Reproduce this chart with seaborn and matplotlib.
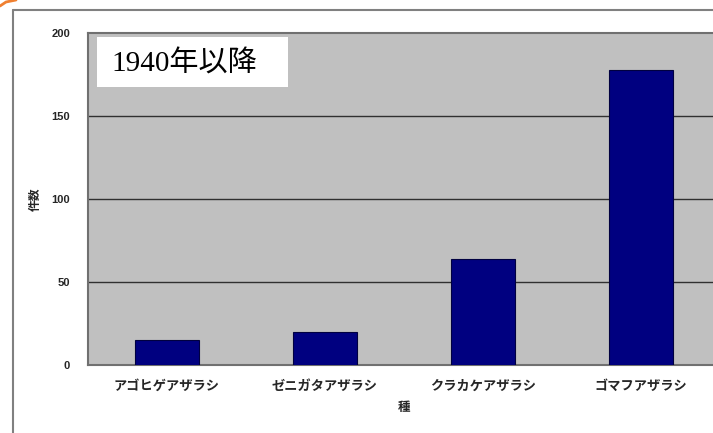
import matplotlib
matplotlib.use("Agg")
import matplotlib.pyplot as plt
import seaborn as sns
import pandas as pd
from matplotlib.patches import Rectangle
from matplotlib.lines import Line2D

species = ["アゴヒゲアザラシ", "ゼニガタアザラシ", "クラカケアザラシ", "ゴマフアザラシ"]
counts = [15, 20, 64, 178]
yticks = [0, 50, 100, 150, 200]
title_text = "1940年以降"
xlabel = "種"
ylabel = "件数"

df = pd.DataFrame({"species": species, "count": counts})

sns.set_theme(style="white")
plt.rcParams["font.family"] = ["Liberation Sans", "Noto Sans CJK JP", "DejaVu Sans"]

W, H = 713, 433
fig = plt.figure(figsize=(W / 100, H / 100), dpi=100)
fig.patch.set_facecolor("white")

# axes: left 88px, right 720px (clipped), top 33px, bottom 365px
ax = fig.add_axes([88 / W, (H - 365) / H, (720 - 88) / W, (365 - 33) / H])
ax.set_facecolor("#c0c0c0")

sns.barplot(data=df, x="species", y="count", color="#000080", width=0.41,
            edgecolor="#000040", linewidth=0.8, saturation=1, ax=ax, zorder=3)

ax.set_xlim(-0.5, len(species) - 0.5)
ax.set_ylim(0, 200)
ax.set_yticks(yticks)
ax.set_yticklabels([str(v) for v in yticks], fontsize=8, fontweight="bold",
                   family=["Liberation Sans", "DejaVu Sans"])
for v in yticks[1:-1]:
    ax.axhline(v, color="#303030", lw=1, zorder=1)

ax.tick_params(axis="y", length=0, pad=13)
ax.tick_params(axis="x", which="major", length=0, pad=10)
ax.set_xticks([i + 0.5 for i in range(len(species) - 1)], minor=True)
ax.tick_params(axis="x", which="minor", length=4, width=1, color="#404040", direction="out")
ax.set_xticklabels(species, fontsize=9.5, fontweight="bold",
                   family=["Noto Sans CJK JP", "DejaVu Sans"])

ax.set_xlabel(xlabel, fontsize=9, fontweight="bold", family=["Noto Sans CJK JP"], labelpad=6)
ax.set_ylabel(ylabel, fontsize=8.5, fontweight="bold", family=["Noto Sans CJK JP"], labelpad=7)

for s in ax.spines.values():
    s.set_visible(True)
    s.set_color("#707070")
    s.set_linewidth(1.5)

# title box
ax.add_patch(Rectangle((9 / 632, 1 - 54 / 332), 191 / 632, 50 / 332,
                       transform=ax.transAxes, facecolor="white", edgecolor="none",
                       zorder=5))
ax.text(23 / 632, 1 - 31 / 332, title_text, transform=ax.transAxes,
        fontsize=21, ha="left", va="center", color="black",
        family=["Liberation Serif", "Noto Sans CJK JP"], zorder=6)

# outer frame
fig.add_artist(Line2D([13 / W, 13 / W], [0, (H - 10) / H], color="#808080", lw=1.5,
                      transform=fig.transFigure))
fig.add_artist(Line2D([13 / W, 1], [(H - 10) / H, (H - 10) / H], color="#808080", lw=1.5,
                      transform=fig.transFigure))
fig.add_artist(Line2D([0, 6 / W, 16 / W], [(H - 6) / H, (H - 2) / H, H / H],
                      color="#f08030", lw=2, transform=fig.transFigure))

fig.savefig("out.png", dpi=100)
